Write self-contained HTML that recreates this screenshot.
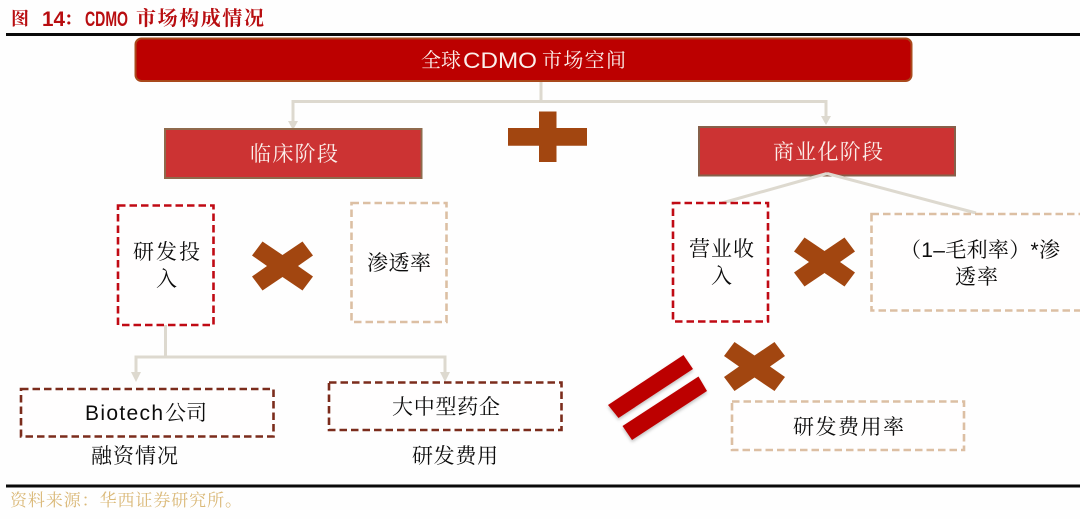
<!DOCTYPE html>
<html lang="zh">
<head>
<meta charset="utf-8">
<title>CDMO 市场构成情况</title>
<style>
html,body{margin:0;padding:0;width:1080px;height:519px;background:#fefefe;overflow:hidden}
svg{display:block}
text{font-family:"Liberation Sans","Noto Serif CJK SC",serif;fill:#0c0c0c;font-weight:400}
.w{fill:#fbeeea}
.t{fill:#b80d10;font-weight:700}
.dash{fill:#fffefe;stroke-width:2.6;stroke-dasharray:7.5 4}
.conn{fill:none;stroke:#ddd9cf;stroke-width:3}
.ah{fill:#ddd9cf}
.x{fill:#a24610}
</style>
</head>
<body>
<svg width="1080" height="519" viewBox="0 0 1080 519" xmlns="http://www.w3.org/2000/svg">
<defs>
<filter id="s" x="-10%" y="-10%" width="120%" height="130%"><feDropShadow dx="0" dy="2" stdDeviation="1.5" flood-color="#000" flood-opacity=".25"/></filter>
<polygon id="cross" points="0,-11 20,-24.5 30.5,-10.5 15.5,0 30.5,10.5 20,24.5 0,11 -20,24.5 -30.5,10.5 -15.5,0 -30.5,-10.5 -20,-24.5"/>
</defs>
<rect width="1080" height="519" fill="#fefefe"/>

<!-- Title -->
<text class="t" x="11" y="25" font-size="18">图</text>
<text class="t" x="42" y="26" font-size="21" textLength="23" lengthAdjust="spacingAndGlyphs">14</text>
<text class="t" x="64" y="25" font-size="18">：</text>
<text class="t" x="85" y="26" font-size="21" textLength="43" lengthAdjust="spacingAndGlyphs">CDMO</text>
<text class="t" x="136" y="25" font-size="20" textLength="128">市场构成情况</text>
<rect x="6" y="33" width="1074" height="3" fill="#0a0a0a"/>

<!-- Connectors -->
<path class="conn" d="M541 81V101.5M293 124V101.5H826V119"/>
<polygon class="ah" points="288,121 298,121 293,130"/>
<polygon class="ah" points="821,116 831,116 826,125"/>
<path class="conn" d="M165.5 325V357M136 374V357H445V374"/>
<polygon class="ah" points="131,372 141,372 136,382"/>
<polygon class="ah" points="440,372 450,372 445,382"/>

<!-- Main boxes -->
<rect x="135.500" y="38.500" width="776" height="42.500" rx="6" fill="#bc0000" stroke="#a9491c" stroke-width="2"/>
<text class="w" x="421" y="67" font-size="20">全球</text>
<text class="w" x="463" y="68" font-size="22.500" textLength="74" lengthAdjust="spacingAndGlyphs">CDMO</text>
<text class="w" x="542" y="67" font-size="20" textLength="84">市场空间</text>
<rect x="165" y="129" width="256.500" height="49" fill="#cc3333" stroke="#8f6a4c" stroke-width="2"/>
<text class="w" x="250" y="161" font-size="21" textLength="88">临床阶段</text>
<rect x="699" y="127" width="256" height="48.500" fill="#cc3333" stroke="#86604a" stroke-width="2"/>
<text class="w" x="773" y="159" font-size="21" textLength="110">商业化阶段</text>
<path d="M827 173.500L722 203M827 173.500L976 213" fill="none" stroke="#ddd9cf" stroke-width="3"/>

<!-- Plus -->
<path fill="#a24610" d="M539 111.500H556.500V128H587V145.700H556.500V162H539V145.700H508V128H539Z"/>

<!-- Left branch -->
<rect class="dash" x="118" y="205.500" width="95.500" height="119.500" stroke="#c00a14"/>
<text x="133" y="259" font-size="21" textLength="67">研发投</text>
<text x="156" y="286" font-size="21">入</text>
<use href="#cross" class="x" transform="translate(282.500 266)"/>
<rect class="dash" x="351.500" y="203" width="95" height="119" stroke="#dcbfa3"/>
<text x="367" y="270" font-size="21" textLength="64">渗透率</text>

<!-- Right branch -->
<rect class="dash" x="673" y="203" width="95" height="118.500" stroke="#c00a14"/>
<text x="689" y="256" font-size="21" textLength="65">营业收</text>
<text x="711" y="283" font-size="21">入</text>
<use href="#cross" class="x" transform="translate(824.500 262)"/>
<rect class="dash" x="871.500" y="214" width="212" height="96.500" stroke="#dcbfa3"/>
<text x="900" y="257" font-size="21" textLength="160">（1–毛利率）*渗</text>
<text x="955" y="284" font-size="21" textLength="43">透率</text>

<!-- Bottom boxes -->
<rect class="dash" x="21" y="389" width="252.500" height="47.500" stroke="#7b2c1c"/>
<text x="85" y="420" font-size="21" textLength="78">Biotech</text>
<text x="165" y="420" font-size="21" textLength="42">公司</text>
<text x="91" y="463" font-size="21" textLength="87">融资情况</text>
<rect class="dash" x="329" y="382.500" width="232.500" height="47.500" stroke="#7b2c1c"/>
<text x="392" y="414" font-size="21" textLength="108">大中型药企</text>
<text x="412" y="463" font-size="21" textLength="86">研发费用</text>

<!-- Equals -->
<g fill="#bc0000" filter="url(#s)">
<polygon points="608,405 683.500,355 693,369 618.500,418"/>
<polygon points="622.500,426 698.500,376.500 707,391 632,440"/>
</g>
<use href="#cross" class="x" transform="translate(754.500 366.500)"/>
<rect class="dash" x="732" y="401.500" width="232" height="48.500" stroke="#dcbfa3"/>
<text x="793" y="434" font-size="21" textLength="111">研发费用率</text>

<!-- Footer -->
<rect x="6" y="484.500" width="1074" height="3" fill="#0a0a0a"/>
<text x="10" y="506" font-size="17" textLength="232" style="fill:#dab877">资料来源：华西证券研究所。</text>
</svg>
</body>
</html>
